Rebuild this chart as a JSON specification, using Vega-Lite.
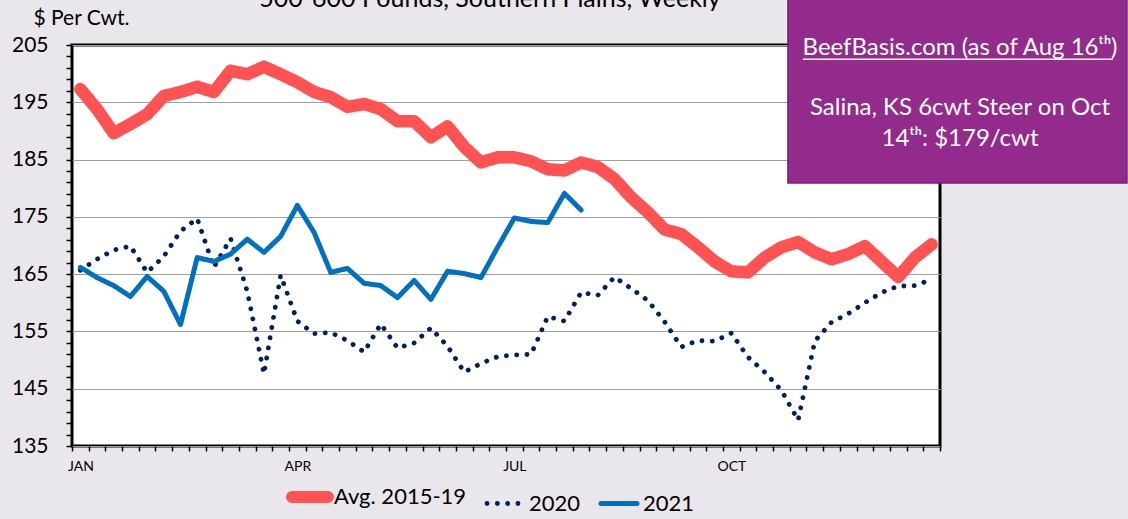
{
"$schema":"https://vega.github.io/schema/vega-lite/v6.json",
"width":868,"height":401,
"autosize":{"type":"none"},
"padding":{"left":72,"top":45,"right":188,"bottom":73},
"background":"#e9e6ec",
"config":{"view":{"fill":"white","stroke":"black","strokeWidth":3},"font":"Lato","legend":{"padding":0}},
"datasets":{
"lines":[
{"s":"Avg. 2015-19","w":1,"p":197.3},{"s":"Avg. 2015-19","w":2,"p":193.8},{"s":"Avg. 2015-19","w":3,"p":189.6},{"s":"Avg. 2015-19","w":4,"p":191.2},{"s":"Avg. 2015-19","w":5,"p":192.9},{"s":"Avg. 2015-19","w":6,"p":196.1},{"s":"Avg. 2015-19","w":7,"p":196.8},{"s":"Avg. 2015-19","w":8,"p":197.7},{"s":"Avg. 2015-19","w":9,"p":196.8},{"s":"Avg. 2015-19","w":10,"p":200.5},
{"s":"Avg. 2015-19","w":11,"p":199.9},{"s":"Avg. 2015-19","w":12,"p":201.2},{"s":"Avg. 2015-19","w":13,"p":199.9},{"s":"Avg. 2015-19","w":14,"p":198.5},{"s":"Avg. 2015-19","w":15,"p":196.8},{"s":"Avg. 2015-19","w":16,"p":195.9},{"s":"Avg. 2015-19","w":17,"p":194.2},{"s":"Avg. 2015-19","w":18,"p":194.7},{"s":"Avg. 2015-19","w":19,"p":193.8},{"s":"Avg. 2015-19","w":20,"p":191.7},
{"s":"Avg. 2015-19","w":21,"p":191.7},{"s":"Avg. 2015-19","w":22,"p":188.9},{"s":"Avg. 2015-19","w":23,"p":190.8},{"s":"Avg. 2015-19","w":24,"p":187.2},{"s":"Avg. 2015-19","w":25,"p":184.5},{"s":"Avg. 2015-19","w":26,"p":185.4},{"s":"Avg. 2015-19","w":27,"p":185.4},{"s":"Avg. 2015-19","w":28,"p":184.7},{"s":"Avg. 2015-19","w":29,"p":183.3},{"s":"Avg. 2015-19","w":30,"p":183.1},
{"s":"Avg. 2015-19","w":31,"p":184.5},{"s":"Avg. 2015-19","w":32,"p":183.7},{"s":"Avg. 2015-19","w":33,"p":181.6},{"s":"Avg. 2015-19","w":34,"p":178.4},{"s":"Avg. 2015-19","w":35,"p":175.8},{"s":"Avg. 2015-19","w":36,"p":172.8},{"s":"Avg. 2015-19","w":37,"p":172.0},{"s":"Avg. 2015-19","w":38,"p":169.7},{"s":"Avg. 2015-19","w":39,"p":167.2},{"s":"Avg. 2015-19","w":40,"p":165.5},
{"s":"Avg. 2015-19","w":41,"p":165.3},{"s":"Avg. 2015-19","w":42,"p":167.9},{"s":"Avg. 2015-19","w":43,"p":169.7},{"s":"Avg. 2015-19","w":44,"p":170.6},{"s":"Avg. 2015-19","w":45,"p":168.8},{"s":"Avg. 2015-19","w":46,"p":167.6},{"s":"Avg. 2015-19","w":47,"p":168.5},{"s":"Avg. 2015-19","w":48,"p":169.9},{"s":"Avg. 2015-19","w":49,"p":167.2},{"s":"Avg. 2015-19","w":50,"p":164.5},
{"s":"Avg. 2015-19","w":51,"p":167.9},{"s":"Avg. 2015-19","w":52,"p":170.2},
{"s":"2020","w":1,"p":165.7},{"s":"2020","w":2,"p":167.6},{"s":"2020","w":3,"p":169.2},{"s":"2020","w":4,"p":169.9},{"s":"2020","w":5,"p":165.3},{"s":"2020","w":6,"p":168.1},{"s":"2020","w":7,"p":172.5},{"s":"2020","w":8,"p":174.7},{"s":"2020","w":9,"p":166.2},{"s":"2020","w":10,"p":171.2},
{"s":"2020","w":11,"p":162.0},{"s":"2020","w":12,"p":147.6},{"s":"2020","w":13,"p":164.8},{"s":"2020","w":14,"p":156.8},{"s":"2020","w":15,"p":154.6},{"s":"2020","w":16,"p":154.8},{"s":"2020","w":17,"p":153.4},{"s":"2020","w":18,"p":151.4},{"s":"2020","w":19,"p":156.3},{"s":"2020","w":20,"p":152.1},
{"s":"2020","w":21,"p":153.0},{"s":"2020","w":22,"p":155.6},{"s":"2020","w":23,"p":152.4},{"s":"2020","w":24,"p":147.9},{"s":"2020","w":25,"p":149.4},{"s":"2020","w":26,"p":150.6},{"s":"2020","w":27,"p":150.9},{"s":"2020","w":28,"p":151.0},{"s":"2020","w":29,"p":157.6},{"s":"2020","w":30,"p":156.8},
{"s":"2020","w":31,"p":161.8},{"s":"2020","w":32,"p":161.3},{"s":"2020","w":33,"p":164.5},{"s":"2020","w":34,"p":162.5},{"s":"2020","w":35,"p":160.4},{"s":"2020","w":36,"p":156.7},{"s":"2020","w":37,"p":152.3},{"s":"2020","w":38,"p":153.4},{"s":"2020","w":39,"p":153.3},{"s":"2020","w":40,"p":154.7},
{"s":"2020","w":41,"p":150.5},{"s":"2020","w":42,"p":147.9},{"s":"2020","w":43,"p":144.7},{"s":"2020","w":44,"p":139.5},{"s":"2020","w":45,"p":153.3},{"s":"2020","w":46,"p":156.6},{"s":"2020","w":47,"p":158.1},{"s":"2020","w":48,"p":160.0},{"s":"2020","w":49,"p":161.8},{"s":"2020","w":50,"p":162.9},
{"s":"2020","w":51,"p":163.0},{"s":"2020","w":52,"p":164.1},
{"s":"2021","w":1,"p":166.2},{"s":"2021","w":2,"p":164.4},{"s":"2021","w":3,"p":163.0},{"s":"2021","w":4,"p":161.1},{"s":"2021","w":5,"p":164.6},{"s":"2021","w":6,"p":162.0},{"s":"2021","w":7,"p":156.2},{"s":"2021","w":8,"p":167.9},{"s":"2021","w":9,"p":167.2},{"s":"2021","w":10,"p":168.5},
{"s":"2021","w":11,"p":171.1},{"s":"2021","w":12,"p":168.8},{"s":"2021","w":13,"p":171.6},{"s":"2021","w":14,"p":177.0},{"s":"2021","w":15,"p":172.3},{"s":"2021","w":16,"p":165.3},{"s":"2021","w":17,"p":166.0},{"s":"2021","w":18,"p":163.4},{"s":"2021","w":19,"p":163.0},{"s":"2021","w":20,"p":160.9},
{"s":"2021","w":21,"p":163.9},{"s":"2021","w":22,"p":160.6},{"s":"2021","w":23,"p":165.5},{"s":"2021","w":24,"p":165.1},{"s":"2021","w":25,"p":164.4},{"s":"2021","w":26,"p":169.7},{"s":"2021","w":27,"p":174.8},{"s":"2021","w":28,"p":174.2},{"s":"2021","w":29,"p":174.0},{"s":"2021","w":30,"p":179.1},
{"s":"2021","w":31,"p":176.2}
],
"box":[{"w":43.39,"w2":63.7,"p":214,"p2":180.91}],
"notes":[
{"t":"BeefBasis.com (as of Aug 16ᵗʰ)","w":53.7,"p":203.25},
{"t":"Salina, KS 6cwt Steer on Oct","w":53.7,"p":192.78},
{"t":"14ᵗʰ: $179/cwt","w":53.7,"p":187.42}
],
"uline":[{"w":44.29,"w2":62.86,"p":202.5}],
"heading":[{"t":"500-600 Pounds, Southern Plains, Weekly","w":25.54,"p":211.58}]
},
"encoding":{
"x":{"field":"w","type":"quantitative","scale":{"domain":[0.5,52.5],"nice":false,"zero":false},
"axis":{"values":[0.5,1,1.5,2.5,3.5,4.5,5.5,6.5,7.5,8.5,9.5,10.5,11.5,12.5,13.5,14,14.5,15.5,16.5,17.5,18.5,19.5,20.5,21.5,22.5,23.5,24.5,25.5,26.5,27,27.5,28.5,29.5,30.5,31.5,32.5,33.5,34.5,35.5,36.5,37.5,38.5,39.5,40,40.5,41.5,42.5,43.5,44.5,45.5,46.5,47.5,48.5,49.5,50.5,51.5,52.5],
"labelExpr":"datum.value==1?'JAN':datum.value==14?'APR':datum.value==27?'JUL':datum.value==40?'OCT':''",
"tickOpacity":{"condition":{"test":"datum.value % 1 == 0","value":0},"value":1},
"grid":false,"domain":false,"tickColor":"black","tickSize":5,"tickWidth":1.5,
"labelFont":"Lato","labelFontSize":14,"labelColor":"black","labelPadding":8,"labelOverlap":false,"labelBound":false,"labelFlush":false,"title":null}},
"y":{"field":"p","type":"quantitative","scale":{"domain":[135,205],"nice":false,"zero":false},
"axis":{"values":[135,137,139,141,143,145,147,149,151,153,155,157,159,161,163,165,167,169,171,173,175,177,179,181,183,185,187,189,191,193,195,197,199,201,203,205],
"labelExpr":"datum.value % 10 == 5 ? datum.label : ''",
"grid":true,"gridColor":"#a0a0a0","gridWidth":1,
"gridOpacity":{"condition":{"test":"datum.value % 10 != 5","value":0},"value":1},
"domain":false,"tickColor":"black","tickSize":6,"tickWidth":1.5,
"labelFont":"Lato","labelFontSize":21,"labelColor":"black","labelPadding":18,"labelOverlap":false,"labelFlush":false,
"title":"$ Per Cwt.","titleAngle":0,"titleAlign":"left","titleBaseline":"alphabetic","titleX":-39,"titleY":-21,
"titleFont":"Lato","titleFontSize":21,"titleFontWeight":"normal","titleColor":"black"}}
},
"layer":[
{"data":{"name":"lines"},"mark":{"type":"line","strokeCap":"round","strokeJoin":"round"},
"encoding":{
"color":{"field":"s","type":"nominal","scale":{"domain":["Avg. 2015-19","2020","2021"],"range":["#ff5353","#002060","#0070c0"]},
"legend":{"orient":"none","legendX":227,"legendY":441,"direction":"horizontal","title":null,"symbolType":"stroke","symbolSize":1296,
"labelFont":"Lato","labelFontSize":22,"labelColor":"black","labelOffset":13,"columnPadding":10,
"encode":{"symbols":{"update":{"strokeCap":{"value":"round"},"strokeWidth":{"signal":"datum.value === 'Avg. 2015-19' ? 12 : datum.value === '2020' ? 4.8 : 5"}}}}}},
"strokeDash":{"field":"s","type":"nominal","scale":{"domain":["Avg. 2015-19","2020","2021"],"range":[[1,0],[0.1,10.2],[1,0]]}},
"strokeWidth":{"condition":[{"test":"datum.s === 'Avg. 2015-19'","value":12.5},{"test":"datum.s === '2020'","value":4.8}],"value":5}
}},
{"data":{"name":"box"},"mark":{"type":"rect","fill":"#922b8c","stroke":"#7a1f76","strokeWidth":1.5},
"encoding":{"x2":{"field":"w2"},"y2":{"field":"p2"}}},
{"data":{"name":"notes"},"mark":{"type":"text","color":"white","fontSize":24,"font":"Lato","baseline":"alphabetic","align":"center"},
"encoding":{"text":{"field":"t"}}},
{"data":{"name":"uline"},"mark":{"type":"rule","color":"white","strokeWidth":1.5},
"encoding":{"x2":{"field":"w2"}}},
{"data":{"name":"heading"},"mark":{"type":"text","color":"black","fontSize":25,"font":"Lato","baseline":"alphabetic","align":"center"},
"encoding":{"text":{"field":"t"}}}
]
}
